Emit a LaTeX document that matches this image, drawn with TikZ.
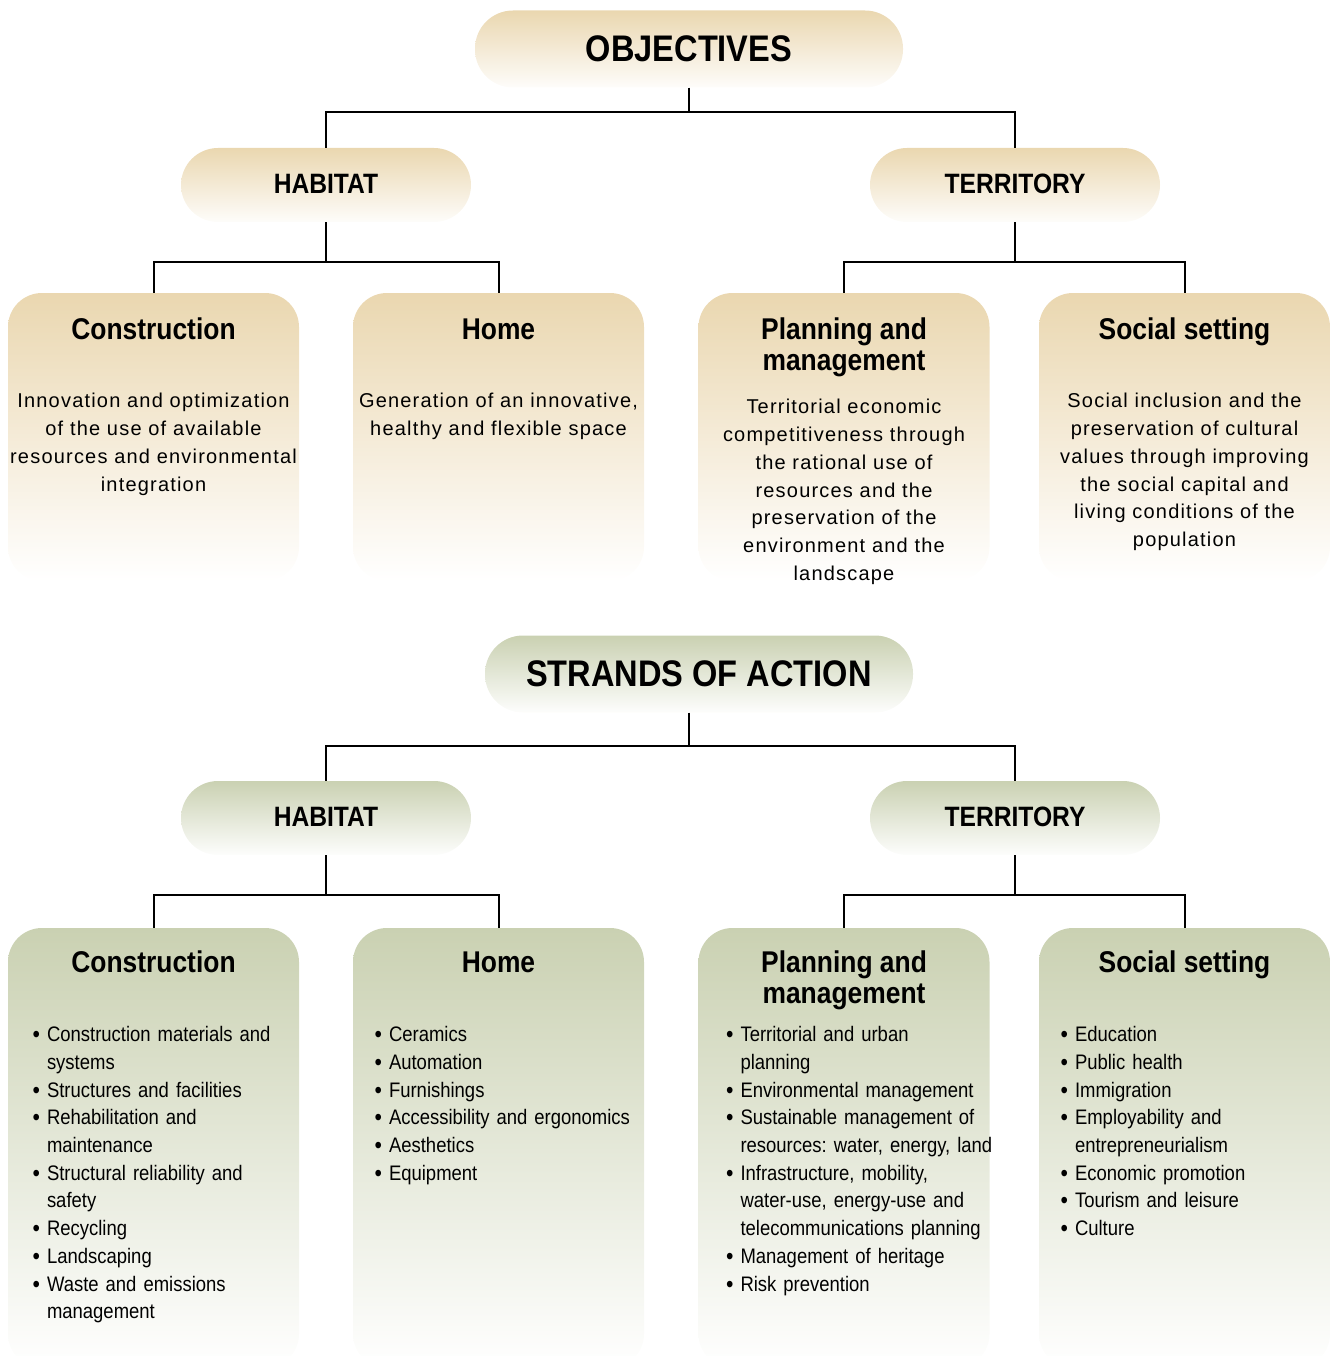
\documentclass[tikz,border=0pt]{standalone}
\usepackage{fontspec}
\setmainfont{Liberation Sans}
\newfontfamily\condfont[FakeStretch=0.88]{Liberation Sans}
\newfontfamily\plainfont[LetterSpace=6]{Liberation Sans}
\usetikzlibrary{positioning}

\definecolor{sand}{HTML}{EAD7B0}
\definecolor{sage}{HTML}{CAD1B2}

\newcommand{\bigdot}{\raisebox{-1pt}{\fontsize{24}{24}\selectfont\textbullet}}
\newenvironment{strandlist}{\begin{list}{\bigdot}{%
  \setlength\leftmargin{17pt}\setlength\labelwidth{10pt}\setlength\labelsep{7pt}%
  \setlength\itemsep{0pt}\setlength\parsep{0pt}\setlength\topsep{0pt}%
  \setlength\partopsep{0pt}}\frenchspacing}{\end{list}}

\tikzset{
  pill/.style={rectangle, rounded corners=37pt, minimum width=290pt, minimum height=74pt, inner sep=0pt},
  bigpill/.style={pill, minimum width=428pt, minimum height=77pt, rounded corners=38pt},
  card/.style={rectangle, rounded corners=34pt, minimum width=291pt, inner sep=0pt},
  warm/.style={top color=sand, bottom color=sand!6},
  cool/.style={top color=sage, bottom color=sage!4},
  warmcard/.style={top color=sand, bottom color=white},
  coolcard/.style={top color=sage, bottom color=white},
  conn/.style={line width=2pt},
  bigtitle/.style={font=\condfont\bfseries\fontsize{37}{37}\selectfont},
  midtitle/.style={font=\condfont\bfseries\fontsize{28}{28}\selectfont, yshift=1.5pt},
  cardtitle/.style={font=\condfont\bfseries\fontsize{30}{31}\selectfont, align=center, inner sep=0pt},
  aim/.style={font=\plainfont\fontsize{20}{27.7}\selectfont, align=center, inner sep=0pt, anchor=north},
  items/.style={font=\condfont\fontsize{21}{27.7}\selectfont, text width=290pt, align=left, inner sep=0pt, anchor=north west}
}

\begin{document}
\begin{tikzpicture}[x=1pt, y=1pt]
\useasboundingbox (0,0) rectangle (1330,-1356);

% objectives
\node[bigpill, warm] (obj) at (689,-49) {};
\node[bigtitle] (objt) at (obj) {OBJECTIVES};
\node[pill, warm] (hab1) at (326,-185) {};
\node[midtitle] (hab1t) at (hab1) {HABITAT};
\node[pill, warm] (ter1) at (1015,-185) {};
\node[midtitle] (ter1t) at (ter1) {TERRITORY};

\node[card, warmcard, minimum height=288pt] (con1) at (153.5,-437) {};
\node[card, warmcard, minimum height=288pt] (home1) at (498.5,-437) {};
\node[card, warmcard, minimum height=288pt] (plan1) at (844,-437) {};
\node[card, warmcard, minimum height=288pt] (soc1) at (1184.5,-437) {};

\node[cardtitle] (con1t) at ([yshift=-36]con1.north) {Construction};
\node[cardtitle] (home1t) at ([yshift=-37]home1.north) {Home};
\node[cardtitle] (plan1t) at ([yshift=-55]plan1.north) {Planning and\\management};
\node[cardtitle] (soc1t) at ([yshift=-39]soc1.north) {Social setting};

\node[aim] (con1a) at ([yshift=-100.5]con1.north) {Innovation and optimization\\of the use of available\\resources and environmental\\integration};
\node[aim] (home1a) at ([yshift=-100.5]home1.north) {Generation of an innovative,\\healthy and flexible space};
\node[aim] (plan1a) at ([yshift=-106.5]plan1.north) {Territorial economic\\competitiveness through\\the rational use of\\resources and the\\preservation of the\\environment and the\\landscape};
\node[aim] (soc1a) at ([yshift=-100.5]soc1.north) {Social inclusion and the\\preservation of cultural\\values through improving\\the social capital and\\living conditions of the\\population};

% strands of action
\node[bigpill, cool] (act) at (699,-674) {};
\node[bigtitle] (actt) at (act) {STRANDS OF ACTION};
\node[pill, cool] (hab2) at (326,-818) {};
\node[midtitle] (hab2t) at (hab2) {HABITAT};
\node[pill, cool] (ter2) at (1015,-818) {};
\node[midtitle] (ter2t) at (ter2) {TERRITORY};

\node[card, coolcard, minimum height=440pt] (con2) at (153.5,-1148) {};
\node[card, coolcard, minimum height=440pt] (home2) at (498.5,-1148) {};
\node[card, coolcard, minimum height=440pt] (plan2) at (844,-1148) {};
\node[card, coolcard, minimum height=440pt] (soc2) at (1184.5,-1148) {};

\node[cardtitle] (con2t) at ([yshift=-34]con2.north) {Construction};
\node[cardtitle] (home2t) at ([yshift=-35]home2.north) {Home};
\node[cardtitle] (plan2t) at ([yshift=-52]plan2.north) {Planning and\\management};
\node[cardtitle] (soc2t) at ([yshift=-37]soc2.north) {Social setting};

\node[items] (con2l) at ([xshift=22, yshift=-86]con2.north west) {\begin{strandlist}
  \item Construction materials and\newline systems
  \item Structures and facilities
  \item Rehabilitation and\newline maintenance
  \item Structural reliability and\newline safety
  \item Recycling
  \item Landscaping
  \item Waste and emissions\newline management
\end{strandlist}};
\node[items] (home2l) at ([xshift=19, yshift=-86]home2.north west) {\begin{strandlist}
  \item Ceramics
  \item Automation
  \item Furnishings
  \item Accessibility and ergonomics
  \item Aesthetics
  \item Equipment
\end{strandlist}};
\node[items] (plan2l) at ([xshift=25, yshift=-86]plan2.north west) {\begin{strandlist}
  \item Territorial and urban\newline planning
  \item Environmental management
  \item Sustainable management of\newline resources: water, energy, land
  \item Infrastructure, mobility,\newline water-use, energy-use and\newline telecommunications planning
  \item Management of heritage
  \item Risk prevention
\end{strandlist}};
\node[items] (soc2l) at ([xshift=19, yshift=-86]soc2.north west) {\begin{strandlist}
  \item Education
  \item Public health
  \item Immigration
  \item Employability and\newline entrepreneurialism
  \item Economic promotion
  \item Tourism and leisure
  \item Culture
\end{strandlist}};

% connectors
\draw[conn] (obj.south) -- ++(0,-24) coordinate (o1);
\draw[conn] (hab1.north) |- (o1) -| (ter1.north);
\draw[conn] (hab1.south) -- ++(0,-40) coordinate (h1);
\draw[conn] (con1.north) |- (h1) -| (home1.north);
\draw[conn] (ter1.south) -- ++(0,-40) coordinate (t1);
\draw[conn] (plan1.north) |- (t1) -| (soc1.north);

\draw[conn] ([xshift=-10]act.south) -- ++(0,-33) coordinate (a1);
\draw[conn] (hab2.north) |- (a1) -| (ter2.north);
\draw[conn] (hab2.south) -- ++(0,-40) coordinate (h2);
\draw[conn] (con2.north) |- (h2) -| (home2.north);
\draw[conn] (ter2.south) -- ++(0,-40) coordinate (t2);
\draw[conn] (plan2.north) |- (t2) -| (soc2.north);

\end{tikzpicture}
\end{document}
